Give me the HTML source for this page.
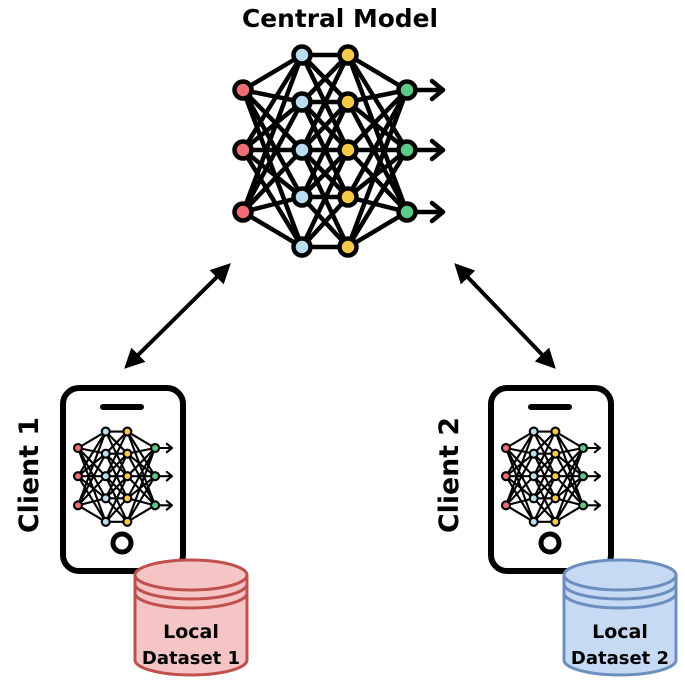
<!DOCTYPE html>
<html><head><meta charset="utf-8"><style>html,body{margin:0;padding:0;background:#fff}svg{display:block}</style></head>
<body>
<svg width="685" height="685" viewBox="0 0 685 685" xmlns="http://www.w3.org/2000/svg" font-family="DejaVu Sans, Liberation Sans, sans-serif">
<defs>
<marker id="ah" viewBox="0 0 10 10" refX="8" refY="5" markerWidth="5" markerHeight="5" orient="auto-start-reverse"><path d="M0,0 L10,5 L0,10 z" fill="#000"/></marker>
<g id="net">
  <g stroke="#000" stroke-width="4.5" fill="none" stroke-linecap="round">
    <path d="M243,90L302,55M243,90L302,102M243,90L302,150M243,90L302,197M243,90L302,247
             M243,150L302,55M243,150L302,102M243,150L302,150M243,150L302,197M243,150L302,247
             M243,212L302,55M243,212L302,102M243,212L302,150M243,212L302,197M243,212L302,247"/>
    <path d="M302,55L348,55M302,55L348,102M302,55L348,150M302,102L348,55M302,102L348,102M302,102L348,150M302,102L348,197
             M302,150L348,102M302,150L348,150M302,150L348,197M302,150L348,55M302,150L348,247
             M302,197L348,150M302,197L348,197M302,197L348,247M302,197L348,102M302,247L348,247M302,247L348,197M302,247L348,150"/>
    <path d="M348,55L407,90M348,102L407,90M348,150L407,90M348,197L407,90M348,247L407,90
             M348,55L407,150M348,102L407,150M348,150L407,150M348,197L407,150M348,247L407,150
             M348,55L407,212M348,102L407,212M348,150L407,212M348,197L407,212M348,247L407,212"/>
    <path d="M407,90L440,90M407,150L440,150M407,212L440,212"/>
    <path d="M432,81L443,90L432,99M432,141L443,150L432,159M432,203L443,212L432,221" stroke-linejoin="round"/>
  </g>
  <g stroke="#000" stroke-width="4.5">
    <circle cx="243" cy="90" r="8.5" fill="#ee6e73"/><circle cx="243" cy="150" r="8.5" fill="#ee6e73"/><circle cx="243" cy="212" r="8.5" fill="#ee6e73"/>
    <circle cx="302" cy="55" r="8.5" fill="#b9def2"/><circle cx="302" cy="102" r="8.5" fill="#b9def2"/><circle cx="302" cy="150" r="8.5" fill="#b9def2"/><circle cx="302" cy="197" r="8.5" fill="#b9def2"/><circle cx="302" cy="247" r="8.5" fill="#b9def2"/>
    <circle cx="348" cy="55" r="8.5" fill="#f7c948"/><circle cx="348" cy="102" r="8.5" fill="#f7c948"/><circle cx="348" cy="150" r="8.5" fill="#f7c948"/><circle cx="348" cy="197" r="8.5" fill="#f7c948"/><circle cx="348" cy="247" r="8.5" fill="#f7c948"/>
    <circle cx="407" cy="90" r="8.5" fill="#5cc98a"/><circle cx="407" cy="150" r="8.5" fill="#5cc98a"/><circle cx="407" cy="212" r="8.5" fill="#5cc98a"/>
  </g>
</g>
</defs>
<text x="242" y="27" font-weight="bold" font-size="25" textLength="196" lengthAdjust="spacingAndGlyphs">Central Model</text>
<use href="#net"/>
<line x1="228" y1="266" x2="127" y2="366" stroke="#000" stroke-width="4" marker-start="url(#ah)" marker-end="url(#ah)"/>
<line x1="457" y1="266" x2="553" y2="366" stroke="#000" stroke-width="4" marker-start="url(#ah)" marker-end="url(#ah)"/>
<rect x="63" y="388" width="120" height="183" rx="16" fill="#fff" stroke="#000" stroke-width="6"/>
<line x1="103" y1="407" x2="141" y2="407" stroke="#000" stroke-width="6" stroke-linecap="round"/>
<circle cx="122" cy="543" r="9" fill="none" stroke="#000" stroke-width="5"/>
<g transform="translate(78,448) scale(0.47) translate(-243,-90)"><use href="#net"/></g>
<text transform="translate(38,533) rotate(-90)" font-weight="bold" font-size="27" textLength="116" lengthAdjust="spacingAndGlyphs">Client 1</text>
<g stroke="#c0504d" stroke-width="3" fill="#f5c4c4">
<path d="M135,575 L135,660 A56,15 0 0 0 247,660 L247,575"/>
<ellipse cx="191" cy="575" rx="56" ry="15"/>
<path d="M135,584 A56,15 0 0 0 247,584 M135,593 A56,15 0 0 0 247,593" fill="none"/>
</g>
<text x="191" y="638" text-anchor="middle" font-weight="bold" font-size="19">Local</text>
<text x="191" y="664" text-anchor="middle" font-weight="bold" font-size="18">Dataset 1</text>
<rect x="491" y="388" width="120" height="183" rx="16" fill="#fff" stroke="#000" stroke-width="6"/>
<line x1="531" y1="407" x2="569" y2="407" stroke="#000" stroke-width="6" stroke-linecap="round"/>
<circle cx="550" cy="543" r="9" fill="none" stroke="#000" stroke-width="5"/>
<g transform="translate(506,448) scale(0.47) translate(-243,-90)"><use href="#net"/></g>
<text transform="translate(458,533) rotate(-90)" font-weight="bold" font-size="27" textLength="116" lengthAdjust="spacingAndGlyphs">Client 2</text>
<g stroke="#6c8ebf" stroke-width="3" fill="#c6daf3">
<path d="M564,575 L564,660 A56,15 0 0 0 676,660 L676,575"/>
<ellipse cx="620" cy="575" rx="56" ry="15"/>
<path d="M564,584 A56,15 0 0 0 676,584 M564,593 A56,15 0 0 0 676,593" fill="none"/>
</g>
<text x="620" y="638" text-anchor="middle" font-weight="bold" font-size="19">Local</text>
<text x="620" y="664" text-anchor="middle" font-weight="bold" font-size="18">Dataset 2</text>
</svg>
</body></html>
